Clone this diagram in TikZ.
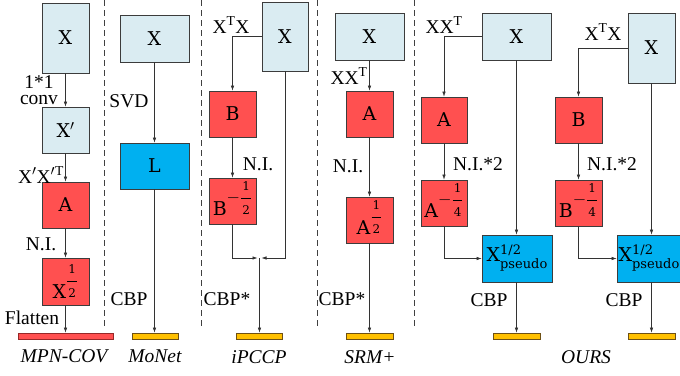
\documentclass[tikz,border=0pt]{standalone}
\usepackage{fontspec}
\setmainfont{Liberation Serif}
\newfontfamily\boxfont{DejaVu Serif}
\usetikzlibrary{arrows.meta}
\definecolor{lblue}{RGB}{218,236,242}
\definecolor{rred}{RGB}{255,80,80}
\definecolor{ccyan}{RGB}{0,176,240}
\definecolor{ggold}{RGB}{255,192,0}
\definecolor{linec}{RGB}{60,60,60}
\definecolor{rbord}{RGB}{150,40,40}
\definecolor{gbord}{RGB}{110,80,20}
\newcommand\myfr[2]{\ensuremath{\displaystyle\frac{\mbox{\fontsize{12}{12}\selectfont\kern1pt #1\kern1pt}}{\mbox{\fontsize{12}{12}\selectfont\kern1pt #2\kern1pt}}}}
\newcommand\myexp[1]{\raisebox{13pt}{#1}}
\newcommand\mydep{\rule[-5pt]{0pt}{1pt}}
\newcommand\mypseudo{X\raisebox{-7pt}{\fontsize{13}{15}\selectfont\begin{tabular}[b]{@{}l@{}}1/2\\[-1pt]pseudo\end{tabular}}\rule[-12pt]{0pt}{1pt}}
\begin{document}
\begin{tikzpicture}[x=1pt,y=-1pt,
  bx/.style={draw=linec, line width=0.7pt, inner sep=0pt, font=\boxfont\fontsize{19}{21}\selectfont},
  lb/.style={bx, fill=lblue},
  rd/.style={bx, fill=rred},
  cy/.style={bx, fill=ccyan},
  redbar/.style={draw=rbord, fill=rred, line width=0.7pt, minimum height=6pt, inner sep=0pt},
  goldbar/.style={draw=gbord, fill=ggold, line width=0.7pt, minimum height=6pt, inner sep=0pt},
  lbl/.style={inner sep=0pt, font=\rmfamily\fontsize{19.5}{21}\selectfont},
  captxt/.style={inner sep=0pt, font=\rmfamily\fontsize{19.5}{21}\selectfont\itshape},
  arr/.style={-{Latex[length=5pt,width=3.5pt]}, line width=0.6pt, draw=black!80},
  sepline/.style={line width=0.7pt, draw=black!75, dash pattern=on 6pt off 4pt}]
\useasboundingbox (0,0) rectangle (680,375);
% separators
\draw[sepline] (104,0) -- (104,326);
\draw[sepline] (201,0) -- (201,326);
\draw[sepline] (317,0) -- (317,326);
\draw[sepline] (414,0) -- (414,326);

% ---------- MPN-COV ----------
\node[lb, minimum width=47pt, minimum height=70pt] (x1) at (65.5,38) {X};
\node[lb, minimum width=47pt, minimum height=46pt] (x1p) at (65.5,130) {X$'$};
\node[rd, minimum width=47pt, minimum height=46pt] (a1) at (65.5,205) {A};
\node[rd, minimum width=47pt, minimum height=47pt] (s1) at (65.5,281.5) {X\myexp{\myfr{1}{2}}};
\node[redbar, minimum width=95pt] (bar1) at (65.5,336) {};
\draw[arr] (x1) -- (x1p);
\draw[arr] (x1p) -- (a1);
\draw[arr] (a1) -- (s1);
\draw[arr] (s1) -- (bar1);
\node[lbl, align=center] (t11) at (39,90) {1*1\\[-5pt]conv};
\node[lbl] (t13) at (41,175) {X$'$X$'$\textsuperscript{T}};
\node[lbl] (t14) at (41,244) {N.I.};
\node[lbl] (t15) at (32,318) {Flatten};
\node[captxt] (c1) at (64,356) {MPN-COV};

% ---------- MoNet ----------
\node[lb, minimum width=69pt, minimum height=47pt] (x2) at (154.5,38.5) {X};
\node[cy, minimum width=69pt, minimum height=46pt] (l2) at (154.5,166) {L};
\node[goldbar, minimum width=46pt] (bar2) at (155,336) {};
\draw[arr] (x2) -- (l2);
\draw[arr] (l2) -- (l2 |- bar2.north);
\node[lbl] (t21) at (129,101) {SVD};
\node[lbl] (t22) at (129,299) {CBP};
\node[captxt] (c2) at (155,356) {MoNet};

% ---------- iPCCP ----------
\node[lb, minimum width=46pt, minimum height=69pt] (x3) at (285,36.5) {X};
\node[rd, minimum width=47pt, minimum height=46pt] (b3) at (232.5,114) {B};
\node[rd, minimum width=47pt, minimum height=46pt] (bh3) at (232.5,201) {B\myexp{$-$\myfr{1}{2}}\mydep};
\coordinate (m3) at (259.5,258);
\node[goldbar, minimum width=46pt] (bar3) at (259.5,336) {};
\draw[arr] (x3.west) -| (b3.north);
\draw[arr] (b3) -- (bh3);
\draw[arr] (bh3.south) |- ([xshift=-2pt]m3);
\draw[arr] (x3.south) |- ([xshift=2pt]m3);
\draw[arr] (m3) -- (m3 |- bar3.north);
\node[lbl] (t31) at (231,25) {X\textsuperscript{T}X};
\node[lbl] (t32) at (258,164) {N.I.};
\node[lbl] (t33) at (227,299) {CBP*};
\node[captxt] (c3) at (259,357) {iPCCP};

% ---------- SRM+ ----------
\node[lb, minimum width=69pt, minimum height=47pt] (x4) at (369.5,36.5) {X};
\node[rd, minimum width=47pt, minimum height=46pt] (a4) at (369.5,114) {A};
\node[rd, minimum width=47pt, minimum height=46pt] (ah4) at (369.5,220) {A\myexp{\myfr{1}{2}}\mydep};
\node[goldbar, minimum width=47pt] (bar4) at (369.5,336) {};
\draw[arr] (x4) -- (a4);
\draw[arr] (a4) -- (ah4);
\draw[arr] (ah4) -- (bar4);
\node[lbl] (t41) at (349,76) {XX\textsuperscript{T}};
\node[lbl] (t42) at (348,166) {N.I.};
\node[lbl] (t43) at (342,299) {CBP*};
\node[captxt] (c4) at (370,357) {SRM+};

% ---------- OURS (left) ----------
\node[lb, minimum width=69pt, minimum height=47pt] (x5) at (516.5,36.5) {X};
\node[rd, minimum width=46pt, minimum height=46pt] (a5) at (444,120) {A};
\node[rd, minimum width=46pt, minimum height=46pt] (ah5) at (444,203) {A\myexp{$-$\myfr{1}{4}}\mydep};
\node[cy, minimum width=70pt, minimum height=47pt] (p5) at (517,258.5) {\mypseudo};
\node[goldbar, minimum width=47pt] (bar5) at (516.5,336) {};
\draw[arr] (x5.west) -| (a5.north);
\draw[arr] (a5) -- (ah5);
\draw[arr] (ah5.south) |- (p5.west);
\draw[arr] (x5.south) -- (x5.south |- p5.north);
\draw[arr] (p5.south -| bar5) -- (bar5.north);
\node[lbl] (t51) at (444,25) {XX\textsuperscript{T}};
\node[lbl] (t52) at (478,164) {N.I.*2};
\node[lbl] (t53) at (489,300) {CBP};

% ---------- OURS (right) ----------
\node[lb, minimum width=47pt, minimum height=70pt] (x6) at (651.5,48) {X};
\node[rd, minimum width=47pt, minimum height=46pt] (b6) at (578.5,120) {B};
\node[rd, minimum width=47pt, minimum height=46pt] (bh6) at (578.5,203) {B\myexp{$-$\myfr{1}{4}}\mydep};
\node[cy, minimum width=64pt, minimum height=47pt] (p6) at (649,258.5) {\mypseudo};
\node[goldbar, minimum width=47pt] (bar6) at (651.5,336) {};
\draw[arr] (x6.west) -| (b6.north);
\draw[arr] (b6) -- (bh6);
\draw[arr] (bh6.south) |- (p6.west);
\draw[arr] (x6.south) -- (x6.south |- p6.north);
\draw[arr] (p6.south -| bar6) -- (bar6.north);
\node[lbl] (t61) at (603,32) {X\textsuperscript{T}X};
\node[lbl] (t62) at (612,164) {N.I.*2};
\node[lbl] (t63) at (624,300) {CBP};
\node[captxt] (c6) at (586,357) {OURS};
\end{tikzpicture}
\end{document}
